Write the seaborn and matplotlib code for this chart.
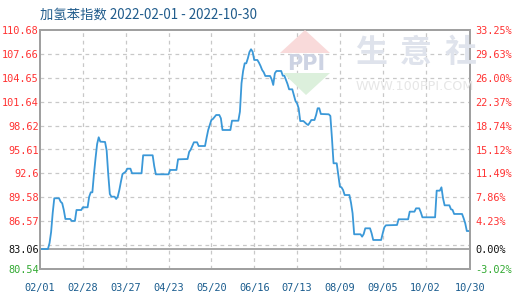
import matplotlib
matplotlib.use("Agg")
import matplotlib.pyplot as plt
import seaborn as sns
import pandas as pd
import numpy as np
from matplotlib.patches import Polygon

title = "加氢苯指数 2022-02-01 - 2022-10-30"

dates = [
    "02-01", "02-06", "02-07", "02-08", "02-09", "02-10", "02-13", "02-14", "02-15", "02-16",
    "02-17", "02-20", "02-21", "02-23", "02-24", "02-27", "02-28", "03-03", "03-04", "03-05",
    "03-06", "03-07", "03-08", "03-09", "03-10", "03-11", "03-14", "03-15", "03-16", "03-17",
    "03-18", "03-20", "03-21", "03-22", "03-23", "03-24", "03-25", "03-27", "03-28", "03-30",
    "03-31", "04-06", "04-07", "04-13", "04-14", "04-15", "04-23", "04-24", "04-28", "04-29",
    "05-05", "05-06", "05-07", "05-08", "05-09", "05-11", "05-12", "05-16", "05-17", "05-18",
    "05-19", "05-20", "05-21", "05-23", "05-25", "05-26", "05-27", "06-01", "06-02", "06-06",
    "06-07", "06-08", "06-09", "06-10", "06-11", "06-12", "06-13", "06-14", "06-15", "06-16",
    "06-18", "06-19", "06-20", "06-21", "06-22", "06-23", "06-26", "06-27", "06-28", "06-29",
    "06-30", "07-03", "07-04", "07-05", "07-06", "07-07", "07-08", "07-10", "07-11", "07-12",
    "07-13", "07-14", "07-15", "07-17", "07-19", "07-20", "07-21", "07-22", "07-24", "07-25",
    "07-26", "07-27", "07-28", "08-02", "08-03", "08-04", "08-05", "08-07", "08-08", "08-09",
    "08-10", "08-11", "08-12", "08-15", "08-16", "08-17", "08-18", "08-22", "08-23", "08-24",
    "08-25", "08-28", "08-29", "08-30", "09-04", "09-05", "09-06", "09-07", "09-14", "09-15",
    "09-21", "09-22", "09-25", "09-26", "09-28", "09-29", "09-30", "10-08", "10-09", "10-11",
    "10-12", "10-13", "10-14", "10-17", "10-18", "10-19", "10-20", "10-25", "10-26", "10-27",
    "10-28", "10-30",
]
values = [
    83.06, 83.06, 83.80, 85.20, 87.60, 89.46, 89.46, 89.03, 88.83, 87.98,
    86.85, 86.85, 86.60, 86.60, 87.98, 87.98, 88.32, 88.32, 89.66, 90.21,
    90.21, 92.50, 94.50, 96.30, 97.15, 96.60, 96.56, 95.50, 92.50, 90.00,
    89.66, 89.66, 89.37, 89.66, 90.50, 91.55, 92.52, 92.81, 93.19, 93.19,
    92.61, 92.61, 94.88, 94.88, 93.50, 92.48, 92.48, 93.03, 93.03, 94.37,
    94.41, 95.30, 95.60, 96.05, 96.52, 96.52, 96.05, 96.05, 97.10, 98.07,
    98.70, 99.33, 99.46, 99.96, 99.96, 99.54, 98.07, 98.07, 99.24, 99.24,
    100.38, 103.96, 105.50, 106.48, 106.48, 107.11, 107.90, 108.25, 107.94, 106.90,
    106.90, 106.56, 106.14, 105.64, 105.35, 104.88, 104.88, 104.46, 103.75, 105.22,
    105.51, 105.51, 104.92, 104.92, 104.38, 103.87, 103.20, 103.20, 102.48, 101.73,
    101.44, 100.81, 99.20, 99.20, 98.83, 98.70, 98.99, 99.33, 99.33, 99.96,
    100.81, 100.81, 100.09, 100.05, 99.84, 97.03, 93.87, 93.87, 92.39, 90.92,
    90.84, 90.50, 89.87, 89.87, 88.90, 87.57, 84.92, 84.92, 84.62, 84.95,
    85.67, 85.67, 85.04, 84.20, 84.20, 85.04, 85.79, 86.05, 86.09, 86.81,
    86.81, 87.77, 87.77, 88.19, 88.19, 87.69, 87.06, 87.06, 90.42, 90.42,
    90.84, 89.46, 88.57, 88.57, 88.07, 88.00, 87.48, 87.48, 86.93, 86.30,
    85.33, 85.33,
]

xtick_dates = ["02-01", "02-28", "03-27", "04-23", "05-20", "06-16",
               "07-13", "08-09", "09-05", "10-02", "10-30"]
xtick_labels = ["02/01", "02/28", "03/27", "04/23", "05/20", "06/16",
                "07/13", "08/09", "09/05", "10/02", "10/30"]
ytick_values = [110.68, 107.66, 104.65, 101.64, 98.62, 95.61, 92.6,
                89.58, 86.57, 83.06, 80.54]
ytick_labels = ["110.68", "107.66", "104.65", "101.64", "98.62", "95.61", "92.6",
                "89.58", "86.57", "83.06", "80.54"]
pct_labels = ["33.25%", "29.63%", "26.00%", "22.37%", "18.74%", "15.12%", "11.49%",
              "7.86%", "4.23%", "0.00%", "-3.02%"]
base_value = 83.06
y_min, y_max = 80.54, 110.68

df = pd.DataFrame({
    "date": pd.to_datetime(["2022-" + d for d in dates]),
    "value": values,
})
xt = pd.to_datetime(["2022-" + d for d in xtick_dates])

W, H = 520, 300
fig = plt.figure(figsize=(W / 100, H / 100), dpi=100)
ax = fig.add_axes([40 / W, 31 / H, 430 / W, 239 / H])

def fx(px):
    return px / W

def fy(py):
    return 1 - py / H

# watermark (decoration)
wm_z = 0
fig.patches.append(Polygon([[fx(280), fy(53)], [fx(305), fy(30)], [fx(330), fy(53)]],
                           closed=True, transform=fig.transFigure, facecolor="#f9dada",
                           edgecolor="none", zorder=wm_z))
fig.patches.append(Polygon([[fx(283), fy(73)], [fx(306), fy(95)], [fx(330), fy(73)]],
                           closed=True, transform=fig.transFigure, facecolor="#dcf0dc",
                           edgecolor="none", zorder=wm_z))
fig.text(fx(306), fy(63.5), "PPI", ha="center", va="center", fontsize=15,
         fontweight="bold", color="#cdd3e3", family="DejaVu Sans", zorder=wm_z)
for cx, ch in zip([371, 416, 461], ["生", "意", "社"]):
    fig.text(fx(cx), fy(53), ch, ha="center", va="center", fontsize=23,
             fontweight="bold", color="#dfe3ec", family="Noto Sans CJK SC", zorder=wm_z)
fig.text(fx(356), fy(87), "WWW.100PPI.COM", ha="left", va="center", fontsize=9.2,
         color="#e6e6e6", family="DejaVu Sans", zorder=wm_z)

ax.patch.set_alpha(0)

# grid lines
grid_kw = dict(color="#c8c8c8", lw=0.9, ls=(0, (3, 3)), zorder=1)
for d in xt[1:-1]:
    ax.axvline(d, **grid_kw)
for v in np.linspace(y_min, y_max, 11)[1:-1]:
    ax.axhline(v, **grid_kw)
ax.axhline(base_value, color="#9a9a9a", lw=1.2, zorder=2)

sns.lineplot(data=df, x="date", y="value", ax=ax, color="#3a98d8", lw=1.3,
             zorder=3, legend=False)

ax.set_xlim(xt[0], xt[-1])
ax.set_ylim(y_min, y_max)
ax.set_xlabel("")
ax.set_ylabel("")

def tick_color(v):
    if v > base_value + 1e-9:
        return "#ff3333"
    if v < base_value - 1e-9:
        return "#33aa33"
    return "#111111"

mono = "DejaVu Sans Mono"
ax.set_xticks(xt)
ax.set_xticklabels(xtick_labels, fontsize=7.4, family=mono, color="#1a5c8e")
ax.set_yticks(ytick_values)
ax.set_yticklabels(ytick_labels, fontsize=7.4, family=mono)
for lab, v in zip(ax.get_yticklabels(), ytick_values):
    lab.set_color(tick_color(v))
ax.tick_params(axis="both", length=0)
ax.tick_params(axis="x", pad=10)
ax.tick_params(axis="y", pad=1)

ax2 = ax.twinx()
ax2.set_ylim(y_min, y_max)
ax2.set_yticks(ytick_values)
ax2.set_yticklabels(pct_labels, fontsize=7.4, family=mono)
for lab, v in zip(ax2.get_yticklabels(), ytick_values):
    lab.set_color(tick_color(v))
ax2.tick_params(axis="y", length=0, pad=4)

for a in (ax, ax2):
    for s in a.spines.values():
        s.set_color("#a0a0a0")
        s.set_linewidth(1.3)

fig.text(fx(40), fy(15), title, ha="left", va="center", fontsize=9.6,
         color="#1f5b8b", family=["Noto Sans CJK SC", "DejaVu Sans"])

fig.savefig("out.png", dpi=100)
